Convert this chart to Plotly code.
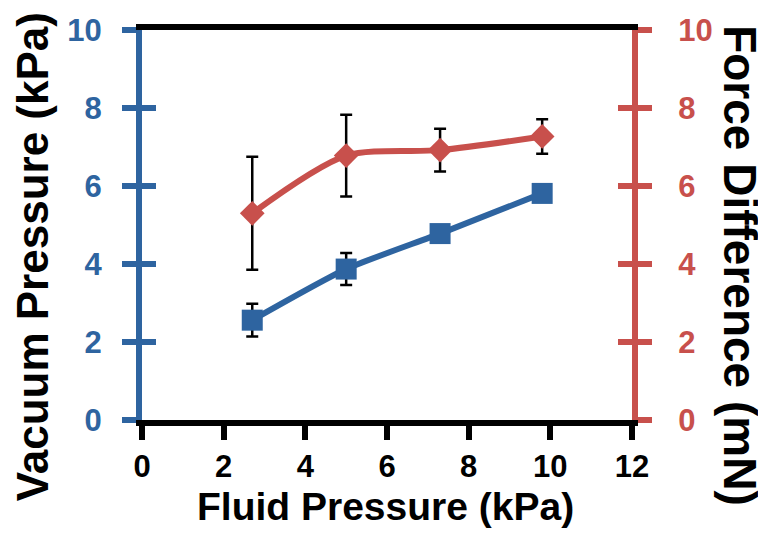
import plotly.graph_objects as go

# ---- data ----
fluid_pressure = [2.7, 5.0, 7.3, 9.8]
vacuum_pressure = [2.56, 3.87, 4.78, 5.81]
vacuum_err = [0.42, 0.41, 0.15, 0.12]
force_difference = [5.30, 6.78, 6.92, 7.27]
force_err = [1.45, 1.05, 0.55, 0.44]
tick_vals = [0, 2, 4, 6, 8, 10]
x_tick_vals = [0, 2, 4, 6, 8, 10, 12]

BLUE = "#2E64A0"
RED = "#C8504C"
FONT = "Liberation Sans"

fig = go.Figure()

# invisible helper traces so the inner-tick overlay axes get drawn (cross ticks)
fig.add_trace(go.Scatter(x=fluid_pressure, y=vacuum_pressure, mode="markers",
                         marker=dict(opacity=0), hoverinfo="skip", yaxis="y3", showlegend=False))
fig.add_trace(go.Scatter(x=fluid_pressure, y=force_difference, mode="markers",
                         marker=dict(opacity=0), hoverinfo="skip", yaxis="y4", showlegend=False))

fig.add_trace(go.Scatter(
    x=fluid_pressure, y=vacuum_pressure, mode="lines+markers",
    line=dict(color=BLUE, width=6, shape="spline", smoothing=0.6),
    marker=dict(symbol="square", size=21, color=BLUE),
    error_y=dict(type="data", array=vacuum_err, color="black", thickness=2.5, width=6),
    yaxis="y", showlegend=False,
))
fig.add_trace(go.Scatter(
    x=fluid_pressure, y=force_difference, mode="lines+markers",
    line=dict(color=RED, width=6, shape="spline", smoothing=0.8),
    marker=dict(symbol="diamond", size=19, color=RED),
    error_y=dict(type="data", array=force_err, color="black", thickness=2.5, width=6),
    yaxis="y2", showlegend=False,
))

tickfont_common = dict(family=FONT, size=31, weight="bold")

fig.update_layout(
    width=758, height=532,
    margin=dict(l=134, r=134, t=22, b=120, autoexpand=False),
    paper_bgcolor="white", plot_bgcolor="white",
    xaxis=dict(
        range=[0, 12], tickvals=x_tick_vals, showgrid=False, zeroline=False,
        showline=True, linecolor="black", linewidth=6, mirror=True, automargin=False,
        ticks="outside", ticklen=14, tickwidth=6, tickcolor="black",
        tickfont=dict(color="black", **tickfont_common), ticklabelstandoff=0,
    ),
    yaxis=dict(
        range=[0, 10], tickvals=tick_vals, showgrid=False, zeroline=False,
        showline=True, linecolor=BLUE, linewidth=6, automargin=False,
        ticks="outside", ticklen=14, tickwidth=6, tickcolor=BLUE,
        tickfont=dict(color=BLUE, **tickfont_common), ticklabelstandoff=14,
    ),
    yaxis2=dict(
        range=[0, 10], tickvals=tick_vals, showgrid=False, zeroline=False,
        overlaying="y", side="right", automargin=False,
        showline=True, linecolor=RED, linewidth=6,
        ticks="outside", ticklen=14, tickwidth=6, tickcolor=RED,
        tickfont=dict(color=RED, **tickfont_common), ticklabelstandoff=20,
    ),
    yaxis3=dict(
        range=[0, 10], tickvals=tick_vals, showgrid=False, zeroline=False,
        overlaying="y", side="left", showline=False, showticklabels=False, automargin=False,
        ticks="inside", ticklen=14, tickwidth=6, tickcolor=BLUE,
    ),
    yaxis4=dict(
        range=[0, 10], tickvals=tick_vals, showgrid=False, zeroline=False,
        overlaying="y", side="right", showline=False, showticklabels=False, automargin=False,
        ticks="inside", ticklen=14, tickwidth=6, tickcolor=RED,
    ),
    annotations=[
        dict(text="Vacuum Pressure (kPa)", xref="paper", yref="paper",
             x=-0.2245, y=0.42, xanchor="center", yanchor="middle", textangle=-90,
             showarrow=False, font=dict(family=FONT, size=44, weight="bold", color="black")),
        dict(text="Force Difference (mN)", xref="paper", yref="paper",
             x=1.22, y=0.395, xanchor="center", yanchor="middle", textangle=90,
             showarrow=False, font=dict(family=FONT, size=46, weight="bold", color="black")),
        dict(text="Fluid Pressure (kPa)", xref="paper", yref="paper",
             x=0.496, y=-0.223, xanchor="center", yanchor="middle",
             showarrow=False, font=dict(family=FONT, size=39, weight="bold", color="black")),
    ],
)

fig.write_html("out.html")
